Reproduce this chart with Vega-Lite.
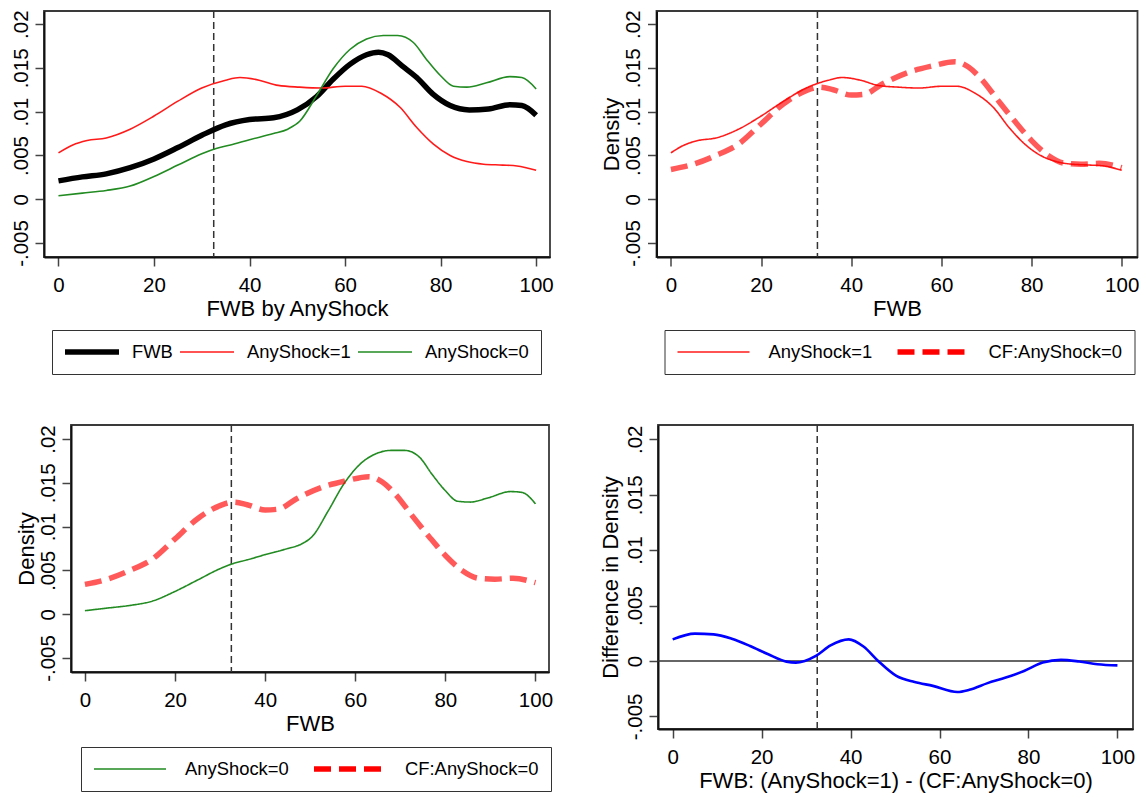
{
  "$schema": "https://vega.github.io/schema/vega-lite/v6.json",
  "background": "white",
  "padding": {"left": 0, "top": 8, "right": 0, "bottom": 0},
  "spacing": 47,
  "resolve": {"scale": {"color": "independent", "strokeDash": "independent"}, "legend": {"color": "independent", "strokeDash": "independent"}},
  "config": {
    "font": "Liberation Sans",
    "view": {"stroke": "#3a3a3a", "strokeWidth": 1.8},
    "axis": {"grid": false, "domainColor": "#111", "domainWidth": 2, "tickColor": "#444", "tickWidth": 1.5, "tickSize": 9,
      "labelFont": "Liberation Sans", "labelFontSize": 20.5, "labelColor": "#000",
      "titleFont": "Liberation Sans", "titleFontSize": 22, "titleFontWeight": "normal", "titleColor": "#000",
      "labelFlush": false, "labelOverlap": false},
    "axisX": {"labelPadding": 9.5, "titlePadding": 2, "labelAngle": 0},
    "axisY": {"labelAngle": 270, "labelAlign": "center", "labelBaseline": "alphabetic", "labelPadding": 8, "titleAngle": 270, "titleBaseline": "alphabetic", "titleAlign": "center"},
    "legend": {"labelFont": "Liberation Sans", "labelFontSize": 18.4, "labelColor": "#000", "strokeColor": "#333", "direction": "horizontal", "orient": "none", "clipHeight": 20, "symbolType": "stroke", "labelBaseline": "middle", "padding": 12}
  },
  "datasets": {
    "cut": [{"fwb": 32.5}],
    "zero": [{"diff": 0}],
    "empty": [],
    "dens": [
      {"fwb": 0, "series": "FWB", "density": 0.0021},
      {"fwb": 5, "series": "FWB", "density": 0.00255},
      {"fwb": 10, "series": "FWB", "density": 0.0029},
      {"fwb": 15, "series": "FWB", "density": 0.0036},
      {"fwb": 20, "series": "FWB", "density": 0.0046},
      {"fwb": 25, "series": "FWB", "density": 0.0059},
      {"fwb": 30, "series": "FWB", "density": 0.0073},
      {"fwb": 35, "series": "FWB", "density": 0.0085},
      {"fwb": 40, "series": "FWB", "density": 0.0091},
      {"fwb": 45, "series": "FWB", "density": 0.0093},
      {"fwb": 50, "series": "FWB", "density": 0.0102},
      {"fwb": 54, "series": "FWB", "density": 0.0117},
      {"fwb": 57.5, "series": "FWB", "density": 0.0137},
      {"fwb": 61, "series": "FWB", "density": 0.0154},
      {"fwb": 64.5, "series": "FWB", "density": 0.0165},
      {"fwb": 67, "series": "FWB", "density": 0.0168},
      {"fwb": 69, "series": "FWB", "density": 0.0165},
      {"fwb": 72, "series": "FWB", "density": 0.0152},
      {"fwb": 75, "series": "FWB", "density": 0.0139},
      {"fwb": 78.4, "series": "FWB", "density": 0.012},
      {"fwb": 82, "series": "FWB", "density": 0.0107},
      {"fwb": 86, "series": "FWB", "density": 0.0102},
      {"fwb": 90, "series": "FWB", "density": 0.0103},
      {"fwb": 94.5, "series": "FWB", "density": 0.0108},
      {"fwb": 97, "series": "FWB", "density": 0.0107},
      {"fwb": 100, "series": "FWB", "density": 0.0096},

      {"fwb": 0, "series": "AnyShock=1", "density": 0.0053},
      {"fwb": 3, "series": "AnyShock=1", "density": 0.0062},
      {"fwb": 6, "series": "AnyShock=1", "density": 0.0067},
      {"fwb": 10, "series": "AnyShock=1", "density": 0.007},
      {"fwb": 15, "series": "AnyShock=1", "density": 0.008},
      {"fwb": 20, "series": "AnyShock=1", "density": 0.0095},
      {"fwb": 25, "series": "AnyShock=1", "density": 0.0112},
      {"fwb": 30, "series": "AnyShock=1", "density": 0.0127},
      {"fwb": 35, "series": "AnyShock=1", "density": 0.0136},
      {"fwb": 38, "series": "AnyShock=1", "density": 0.0139},
      {"fwb": 42, "series": "AnyShock=1", "density": 0.0136},
      {"fwb": 46, "series": "AnyShock=1", "density": 0.013},
      {"fwb": 50.5, "series": "AnyShock=1", "density": 0.0128},
      {"fwb": 55, "series": "AnyShock=1", "density": 0.0127},
      {"fwb": 60, "series": "AnyShock=1", "density": 0.0129},
      {"fwb": 63.5, "series": "AnyShock=1", "density": 0.0129},
      {"fwb": 67.5, "series": "AnyShock=1", "density": 0.0121},
      {"fwb": 71.5, "series": "AnyShock=1", "density": 0.0105},
      {"fwb": 75, "series": "AnyShock=1", "density": 0.0082},
      {"fwb": 78.5, "series": "AnyShock=1", "density": 0.0063},
      {"fwb": 82, "series": "AnyShock=1", "density": 0.005},
      {"fwb": 85.5, "series": "AnyShock=1", "density": 0.0043},
      {"fwb": 89, "series": "AnyShock=1", "density": 0.004},
      {"fwb": 93, "series": "AnyShock=1", "density": 0.0039},
      {"fwb": 96, "series": "AnyShock=1", "density": 0.0038},
      {"fwb": 100, "series": "AnyShock=1", "density": 0.0033},

      {"fwb": 0, "series": "AnyShock=0", "density": 0.0004},
      {"fwb": 5, "series": "AnyShock=0", "density": 0.0007},
      {"fwb": 10, "series": "AnyShock=0", "density": 0.001},
      {"fwb": 15, "series": "AnyShock=0", "density": 0.0015},
      {"fwb": 20, "series": "AnyShock=0", "density": 0.0026},
      {"fwb": 25, "series": "AnyShock=0", "density": 0.0039},
      {"fwb": 30, "series": "AnyShock=0", "density": 0.0052},
      {"fwb": 33, "series": "AnyShock=0", "density": 0.0058},
      {"fwb": 36, "series": "AnyShock=0", "density": 0.0062},
      {"fwb": 40, "series": "AnyShock=0", "density": 0.0068},
      {"fwb": 45, "series": "AnyShock=0", "density": 0.0075},
      {"fwb": 48, "series": "AnyShock=0", "density": 0.008},
      {"fwb": 50.5, "series": "AnyShock=0", "density": 0.0089},
      {"fwb": 54, "series": "AnyShock=0", "density": 0.0118},
      {"fwb": 57.5, "series": "AnyShock=0", "density": 0.0149},
      {"fwb": 61, "series": "AnyShock=0", "density": 0.0171},
      {"fwb": 64.5, "series": "AnyShock=0", "density": 0.0183},
      {"fwb": 68, "series": "AnyShock=0", "density": 0.0187},
      {"fwb": 71, "series": "AnyShock=0", "density": 0.0187},
      {"fwb": 74.3, "series": "AnyShock=0", "density": 0.0179},
      {"fwb": 77, "series": "AnyShock=0", "density": 0.016},
      {"fwb": 80, "series": "AnyShock=0", "density": 0.0141},
      {"fwb": 82.7, "series": "AnyShock=0", "density": 0.0129},
      {"fwb": 85.5, "series": "AnyShock=0", "density": 0.0128},
      {"fwb": 89.6, "series": "AnyShock=0", "density": 0.0133},
      {"fwb": 94.5, "series": "AnyShock=0", "density": 0.014},
      {"fwb": 97, "series": "AnyShock=0", "density": 0.0139},
      {"fwb": 100, "series": "AnyShock=0", "density": 0.0126},

      {"fwb": 0, "series": "CF:AnyShock=0", "density": 0.0034},
      {"fwb": 5, "series": "CF:AnyShock=0", "density": 0.004},
      {"fwb": 10, "series": "CF:AnyShock=0", "density": 0.005},
      {"fwb": 15, "series": "CF:AnyShock=0", "density": 0.0063},
      {"fwb": 20, "series": "CF:AnyShock=0", "density": 0.0086},
      {"fwb": 25, "series": "CF:AnyShock=0", "density": 0.0109},
      {"fwb": 30, "series": "CF:AnyShock=0", "density": 0.0124},
      {"fwb": 33, "series": "CF:AnyShock=0", "density": 0.0128},
      {"fwb": 36, "series": "CF:AnyShock=0", "density": 0.0125},
      {"fwb": 40, "series": "CF:AnyShock=0", "density": 0.0119},
      {"fwb": 43, "series": "CF:AnyShock=0", "density": 0.012},
      {"fwb": 46.7, "series": "CF:AnyShock=0", "density": 0.0131},
      {"fwb": 52.7, "series": "CF:AnyShock=0", "density": 0.0145},
      {"fwb": 57.8, "series": "CF:AnyShock=0", "density": 0.0152},
      {"fwb": 63, "series": "CF:AnyShock=0", "density": 0.0157},
      {"fwb": 66, "series": "CF:AnyShock=0", "density": 0.0151},
      {"fwb": 68.9, "series": "CF:AnyShock=0", "density": 0.0137},
      {"fwb": 72.7, "series": "CF:AnyShock=0", "density": 0.0112},
      {"fwb": 76.3, "series": "CF:AnyShock=0", "density": 0.0089},
      {"fwb": 80, "series": "CF:AnyShock=0", "density": 0.0067},
      {"fwb": 83.7, "series": "CF:AnyShock=0", "density": 0.005},
      {"fwb": 87.4, "series": "CF:AnyShock=0", "density": 0.0041},
      {"fwb": 91, "series": "CF:AnyShock=0", "density": 0.004},
      {"fwb": 95, "series": "CF:AnyShock=0", "density": 0.0041},
      {"fwb": 100, "series": "CF:AnyShock=0", "density": 0.0036}
    ],
    "diff": [
      {"fwb": 0, "diff": 0.00195},
      {"fwb": 5, "diff": 0.00247},
      {"fwb": 9.2, "diff": 0.0024},
      {"fwb": 13.3, "diff": 0.002},
      {"fwb": 17.4, "diff": 0.00135},
      {"fwb": 21.5, "diff": 0.0006},
      {"fwb": 25.6, "diff": -0.00006},
      {"fwb": 27.7, "diff": -0.00015},
      {"fwb": 29.7, "diff": 0},
      {"fwb": 32.2, "diff": 0.00045},
      {"fwb": 35.5, "diff": 0.0014},
      {"fwb": 39.6, "diff": 0.00195},
      {"fwb": 42.9, "diff": 0.0013},
      {"fwb": 46.2, "diff": 0},
      {"fwb": 50.3, "diff": -0.00135},
      {"fwb": 54.4, "diff": -0.0019},
      {"fwb": 58.5, "diff": -0.00225},
      {"fwb": 64, "diff": -0.0028},
      {"fwb": 66.7, "diff": -0.0026},
      {"fwb": 70.8, "diff": -0.002},
      {"fwb": 74.9, "diff": -0.0015},
      {"fwb": 79, "diff": -0.0009},
      {"fwb": 83.2, "diff": -0.00015},
      {"fwb": 87.3, "diff": 0.0001},
      {"fwb": 91.4, "diff": -0.00005},
      {"fwb": 95.5, "diff": -0.0003},
      {"fwb": 100, "diff": -0.0004}
    ]
  },
  "vconcat": [
    {
      "hconcat": [
        {"width": 10, "height": 1, "view": {"stroke": null}, "data": {"name": "empty"}, "mark": "rule", "encoding": {}},
        {
          "hconcat": [
            {
              "width": 506, "height": 246,
              "layer": [
                {
                  "data": {"name": "cut"},
                  "mark": {"type": "rule", "color": "#333", "strokeWidth": 1.5, "strokeDash": [7, 4]},
                  "encoding": {"x": {"field": "fwb", "type": "quantitative", "title": "FWB by AnyShock", "scale": {"domain": [-3.03, 102.9], "nice": false, "zero": false}, "axis": {"values": [0, 20, 40, 60, 80, 100]}}}
                },
                {
                  "data": {"name": "dens"},
                  "transform": [{"filter": {"field": "series", "oneOf": ["FWB", "AnyShock=1", "AnyShock=0"]}}],
                  "mark": {"type": "line", "interpolate": "monotone"},
                  "encoding": {
                    "x": {"field": "fwb", "type": "quantitative", "title": "FWB by AnyShock", "scale": {"domain": [-3.03, 102.9], "nice": false, "zero": false}, "axis": {"values": [0, 20, 40, 60, 80, 100]}},
                    "y": {"field": "density", "type": "quantitative", "title": null, "scale": {"domain": [-0.0066, 0.0215], "nice": false, "zero": false}, "axis": {"values": [-0.005, 0, 0.005, 0.01, 0.015, 0.02], "labelExpr": "datum.value == 0 ? '0' : (datum.value < 0 ? '-' : '') + replace(format(abs(datum.value), '.3~f'), '0.', '.')"}},
                    "color": {"field": "series", "type": "nominal", "scale": {"domain": ["FWB", "AnyShock=1", "AnyShock=0"], "range": ["#000000", "#ff1a1a", "#228b22"]},
                      "legend": {"title": null, "orient": "none", "legendX": 8, "legendY": 319, "columns": 3, "symbolSize": 2916, "labelOffset": 12, "columnPadding": 6, "symbolStrokeWidth": {"expr": "(datum.value === 'FWB' ? 5.5 : 1.6)"}}},
                    "strokeWidth": {"condition": {"test": "datum.series === 'FWB'", "value": 5.5}, "value": 1.6}
                  }
                }
              ]
            },
            {
              "width": 481, "height": 246,
              "layer": [
                {
                  "data": {"name": "cut"},
                  "mark": {"type": "rule", "color": "#333", "strokeWidth": 1.5, "strokeDash": [7, 4]},
                  "encoding": {"x": {"field": "fwb", "type": "quantitative", "title": "FWB", "scale": {"domain": [-3.2, 103.5], "nice": false, "zero": false}, "axis": {"values": [0, 20, 40, 60, 80, 100]}}}
                },
                {
                  "data": {"name": "dens"},
                  "transform": [{"filter": {"field": "series", "oneOf": ["AnyShock=1", "CF:AnyShock=0"]}}],
                  "mark": {"type": "line", "interpolate": "monotone"},
                  "encoding": {
                    "x": {"field": "fwb", "type": "quantitative", "title": "FWB", "scale": {"domain": [-3.2, 103.5], "nice": false, "zero": false}, "axis": {"values": [0, 20, 40, 60, 80, 100]}},
                    "y": {"field": "density", "type": "quantitative", "title": "Density", "scale": {"domain": [-0.0066, 0.0215], "nice": false, "zero": false}, "axis": {"titleX": -38, "values": [-0.005, 0, 0.005, 0.01, 0.015, 0.02], "labelExpr": "datum.value == 0 ? '0' : (datum.value < 0 ? '-' : '') + replace(format(abs(datum.value), '.3~f'), '0.', '.')"}},
                    "color": {"field": "series", "type": "nominal", "scale": {"domain": ["AnyShock=1", "CF:AnyShock=0"], "range": ["#ff1a1a", "#ff0000"]},
                      "legend": {"title": null, "orient": "none", "legendX": 8, "legendY": 319, "columns": 2, "symbolSize": 5184, "labelOffset": 18, "columnPadding": 24, "symbolStrokeWidth": {"expr": "(datum.value === 'CF:AnyShock=0' ? 5.5 : 1.6)"}}},
                    "strokeDash": {"field": "series", "type": "nominal", "scale": {"domain": ["AnyShock=1", "CF:AnyShock=0"], "range": [[1, 0], [17, 8]]},
                      "legend": {"title": null, "orient": "none", "legendX": 8, "legendY": 319, "columns": 2, "symbolSize": 5184, "labelOffset": 18, "columnPadding": 24, "symbolStrokeWidth": {"expr": "(datum.value === 'CF:AnyShock=0' ? 5.5 : 1.6)"}}},
                    "strokeWidth": {"condition": {"test": "datum.series === 'CF:AnyShock=0'", "value": 5.5}, "value": 1.6},
                    "opacity": {"condition": {"test": "datum.series === 'CF:AnyShock=0'", "value": 0.65}, "value": 1}
                  }
                }
              ]
            }
          ],
          "spacing": 44.5,
          "resolve": {"scale": {"color": "independent", "strokeDash": "independent"}, "legend": {"color": "independent", "strokeDash": "independent"}}
        }
      ],
      "spacing": 0,
      "resolve": {"scale": {"color": "independent", "strokeDash": "independent"}, "legend": {"color": "independent", "strokeDash": "independent"}}
    },
    {
      "hconcat": [
        {"width": 14, "height": 1, "view": {"stroke": null}, "data": {"name": "empty"}, "mark": "rule", "encoding": {}},
        {
          "hconcat": [
            {
              "width": 478, "height": 247,
              "layer": [
                {
                  "data": {"name": "cut"},
                  "mark": {"type": "rule", "color": "#333", "strokeWidth": 1.5, "strokeDash": [7, 4]},
                  "encoding": {"x": {"field": "fwb", "type": "quantitative", "title": "FWB", "scale": {"domain": [-3.09, 103.0], "nice": false, "zero": false}, "axis": {"values": [0, 20, 40, 60, 80, 100]}}}
                },
                {
                  "data": {"name": "dens"},
                  "transform": [{"filter": {"field": "series", "oneOf": ["AnyShock=0", "CF:AnyShock=0"]}}],
                  "mark": {"type": "line", "interpolate": "monotone"},
                  "encoding": {
                    "x": {"field": "fwb", "type": "quantitative", "title": "FWB", "scale": {"domain": [-3.09, 103.0], "nice": false, "zero": false}, "axis": {"values": [0, 20, 40, 60, 80, 100]}},
                    "y": {"field": "density", "type": "quantitative", "title": "Density", "scale": {"domain": [-0.0066, 0.0216], "nice": false, "zero": false}, "axis": {"titleX": -38, "values": [-0.005, 0, 0.005, 0.01, 0.015, 0.02], "labelExpr": "datum.value == 0 ? '0' : (datum.value < 0 ? '-' : '') + replace(format(abs(datum.value), '.3~f'), '0.', '.')"}},
                    "color": {"field": "series", "type": "nominal", "scale": {"domain": ["AnyShock=0", "CF:AnyShock=0"], "range": ["#228b22", "#ff0000"]},
                      "legend": {"title": null, "orient": "none", "legendX": 10, "legendY": 322, "columns": 2, "symbolSize": 5184, "labelOffset": 18, "columnPadding": 24, "symbolStrokeWidth": {"expr": "(datum.value === 'CF:AnyShock=0' ? 5.5 : 1.6)"}}},
                    "strokeDash": {"field": "series", "type": "nominal", "scale": {"domain": ["AnyShock=0", "CF:AnyShock=0"], "range": [[1, 0], [17, 8]]},
                      "legend": {"title": null, "orient": "none", "legendX": 10, "legendY": 322, "columns": 2, "symbolSize": 5184, "labelOffset": 18, "columnPadding": 24, "symbolStrokeWidth": {"expr": "(datum.value === 'CF:AnyShock=0' ? 5.5 : 1.6)"}}},
                    "strokeWidth": {"condition": {"test": "datum.series === 'CF:AnyShock=0'", "value": 5.5}, "value": 1.6},
                    "opacity": {"condition": {"test": "datum.series === 'CF:AnyShock=0'", "value": 0.65}, "value": 1}
                  }
                }
              ]
            },
            {
              "width": 475, "height": 304,
              "layer": [
                {
                  "data": {"name": "zero"},
                  "mark": {"type": "rule", "color": "#333", "strokeWidth": 1.5},
                  "encoding": {"y": {"field": "diff", "type": "quantitative", "title": "Difference in Density", "scale": {"domain": [-0.00614, 0.02129], "nice": false, "zero": false}, "axis": {"titleX": -41, "values": [-0.005, 0, 0.005, 0.01, 0.015, 0.02], "labelExpr": "datum.value == 0 ? '0' : (datum.value < 0 ? '-' : '') + replace(format(abs(datum.value), '.3~f'), '0.', '.')"}}}
                },
                {
                  "data": {"name": "cut"},
                  "mark": {"type": "rule", "color": "#333", "strokeWidth": 1.5, "strokeDash": [7, 4]},
                  "encoding": {"x": {"field": "fwb", "type": "quantitative", "title": "FWB: (AnyShock=1) - (CF:AnyShock=0)", "scale": {"domain": [-3.3, 103.5], "nice": false, "zero": false}, "axis": {"values": [0, 20, 40, 60, 80, 100]}}}
                },
                {
                  "data": {"name": "diff"},
                  "mark": {"type": "line", "interpolate": "monotone", "color": "#0000ff", "strokeWidth": 2.6},
                  "encoding": {
                    "x": {"field": "fwb", "type": "quantitative", "title": "FWB: (AnyShock=1) - (CF:AnyShock=0)", "scale": {"domain": [-3.3, 103.5], "nice": false, "zero": false}, "axis": {"values": [0, 20, 40, 60, 80, 100]}},
                    "y": {"field": "diff", "type": "quantitative", "title": "Difference in Density", "scale": {"domain": [-0.00614, 0.02129], "nice": false, "zero": false}, "axis": {"titleX": -41, "values": [-0.005, 0, 0.005, 0.01, 0.015, 0.02], "labelExpr": "datum.value == 0 ? '0' : (datum.value < 0 ? '-' : '') + replace(format(abs(datum.value), '.3~f'), '0.', '.')"}}
                  }
                }
              ]
            }
          ],
          "spacing": 44,
          "resolve": {"scale": {"color": "independent", "strokeDash": "independent"}, "legend": {"color": "independent", "strokeDash": "independent"}}
        }
      ],
      "spacing": 0,
      "resolve": {"scale": {"color": "independent", "strokeDash": "independent"}, "legend": {"color": "independent", "strokeDash": "independent"}}
    }
  ]
}
